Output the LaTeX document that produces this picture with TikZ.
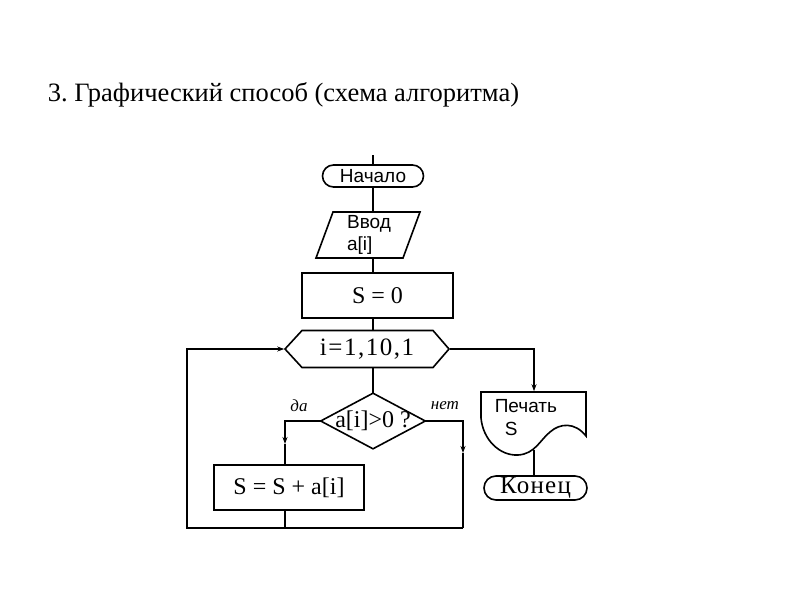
\documentclass[tikz,border=0pt]{standalone}
\usepackage{fontspec}
\setmainfont{Liberation Serif}
\setsansfont{Liberation Sans}
\usetikzlibrary{arrows.meta,shapes.misc}
\frenchspacing
\begin{document}
\begin{tikzpicture}[x=1pt,y=-1pt,line width=1.6pt,
  >={Stealth[length=7pt,width=5pt]},
  term/.style={rounded rectangle, draw, inner sep=0pt},
  blk/.style={draw, rectangle, inner sep=0pt},
  ghost/.style={inner sep=0pt},
  sf/.style={font=\sffamily\fontsize{19}{22}\selectfont},
  rm/.style={font=\fontsize{24}{26}\selectfont},
  lbl/.style={font=\itshape\fontsize{17}{19}\selectfont}]
\useasboundingbox (0,0) rectangle (800,600);
\fill[white] (0,0) rectangle (800,600);
\node[anchor=west, inner sep=0pt, font=\fontsize{26.5}{30}\selectfont] (title) at (47,95) {3. Графический способ (схема алгоритма)};

\coordinate (top) at (373,155);
\node[term, sf, minimum width=101pt, minimum height=22pt] (start) at (373,176) {Начало};

\node[ghost, sf, align=left, minimum width=104pt, minimum height=46pt] (input) at (369,235) {Ввод\\a[i]};
\draw (316,258) -- (333,212) -- (420,212) -- (403,258) -- cycle;

\node[blk, rm, minimum width=151pt, minimum height=45pt] (s0) at (377.5,295.5) {S = 0};

\node[ghost, font=\fontsize{25}{27}\selectfont\addfontfeature{LetterSpace=6}, minimum width=164pt, minimum height=37pt] (loop) at (367,349) {i=1,10,1};
\draw (285,349) -- (302,330.5) -- (433,330.5) -- (449,349) -- (433,367.5) -- (302,367.5) -- cycle;

\node[ghost, font=\fontsize{24}{26}\selectfont, minimum width=103pt, minimum height=54pt] (cond) at (373,421) {a[i]>0 ?};
\draw (cond.north) -- (cond.east) -- (cond.south) -- (cond.west) -- cycle;

\node[blk, rm, minimum width=150pt, minimum height=45pt] (add) at (289,487.5) {S = S + a[i]};

\node[ghost, minimum width=105pt, minimum height=62pt] (print) at (534,423) {};
\draw (481,392) -- (481,418) .. controls (483,440) and (500,456) .. (518,455)
  .. controls (535,454) and (540,440) .. (550,432)
  .. controls (560,423) and (575,422) .. (586,436) -- (586,392) -- cycle;
\node[sf, anchor=west, inner sep=0pt] (ptxt) at (494,406) {Печать};
\node[sf, anchor=west, inner sep=0pt] (stxt) at (504,429) {S};

\node[term, font=\fontsize{25}{27}\selectfont\addfontfeature{LetterSpace=5}, minimum width=103pt, minimum height=24pt] (end) at (535.5,488) {Конец};

\node[lbl] (yes) at (299,406) {да};
\node[lbl] (no) at (445,406) {нет};

% connectors
\draw (top) -- (start);
\draw (start) -- (start |- input.north);
\draw (start |- input.south) -- (start |- s0.north);
\draw (start |- s0.south) -- (start |- loop.north);
\draw (cond.north |- loop.south) -- (cond.north);

\coordinate (la) at (285,444);
\coordinate (ra) at (463,453);
\coordinate (bl) at (187,528);
\coordinate (br) at (463,528);
\coordinate (pb) at (534,450);
\draw[->] (cond.west) -| (la);
\draw (la) -- (la |- add.north);
\draw[->] (cond.east) -| (ra);
\draw (ra) -- (br);
\draw (la |- add.south) -- (la |- bl);
\draw[->] (br) -- (bl) |- (loop.west);
\draw[->] (loop.east) -| (print.north);
\draw (pb) -- (pb |- end.north);
\end{tikzpicture}
\end{document}
